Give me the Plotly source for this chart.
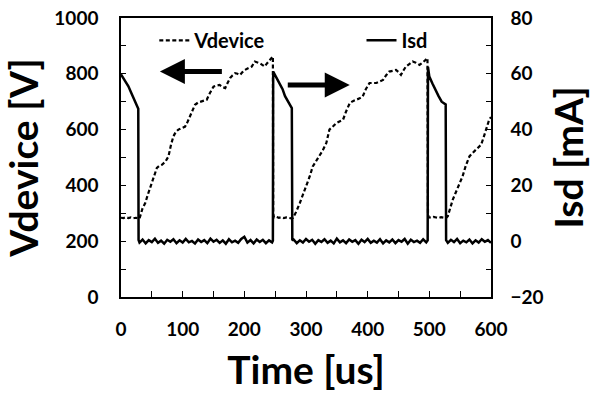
import plotly.graph_objects as go

# ---------------- data ----------------
# Isd pulses (time in us, current in mA)
pulse1_t = [0, 4, 8, 12, 16, 20, 24, 28, 28.5]
pulse1_i = [59.8, 58.5, 57.0, 55.5, 53.5, 51.5, 49.0, 47.5, 0.4]

base1_t = [30, 35, 40, 45, 50, 55, 60, 65, 70, 75, 80, 85, 90, 95, 100, 105, 110, 115,
           120, 125, 130, 135, 140, 145, 150, 155, 160, 165, 170, 175, 180, 185, 190,
           195, 200, 205, 210, 215, 220, 225, 230, 235, 240, 245]
base1_i = [-0.5, 0.6, -0.8, 0.4, -0.3, 0.9, -0.6, 0.2, -0.9, 0.5, -0.2, 0.7, -0.7, 0.3,
           -0.5, 0.8, -0.4, 0.1, -0.8, 0.6, -0.3, 0.4, -0.7, 0.9, -0.2, 0.5, -0.6, 0.3,
           -0.9, 0.7, -0.4, 0.2, -0.6, 0.8, 1.6, -0.5, 0.4, -0.8, 0.6, -0.3, 0.5, -0.7, 0.3, -0.4]

pulse2_t = [246.3, 246.8, 250, 254, 258, 262, 266, 269, 273, 277, 277.8]
pulse2_i = [0.2, 60.8, 59.5, 58.0, 56.5, 54.5, 52.0, 50.7, 49.2, 47.7, 0.3]

base2_t = [280, 285, 290, 295, 300, 305, 310, 315, 320, 325, 330, 335, 340, 345, 350, 355,
           360, 365, 370, 375, 380, 385, 390, 395, 400, 405, 410, 415, 420, 425, 430, 435,
           440, 445, 450, 455, 460, 465, 470, 475, 480, 485, 490, 495]
base2_i = [0.6, -0.7, 0.3, -0.5, 0.8, -0.2, 0.5, -0.9, 0.4, -0.3, 0.7, -0.6, 0.2, -0.8,
           0.9, -0.4, 0.3, -0.7, 0.6, -0.2, 0.4, -0.9, 0.5, -0.3, 0.8, -0.6, 0.2, -0.5,
           0.7, -0.8, 0.3, -0.4, 0.6, -0.7, 0.4, -0.2, 0.8, -0.9, 0.5, -0.3, 0.2, -0.6, 0.7, -0.4]

pulse3_t = [497.3, 497.8, 500, 505, 510, 515, 520, 526.5, 527.2]
pulse3_i = [0.3, 62.5, 59.0, 56.5, 54.0, 52.0, 50.0, 49.0, 0.4]

base3_t = [530, 535, 540, 545, 550, 555, 560, 565, 570, 575, 580, 585, 590, 595, 600]
base3_i = [-0.6, 0.5, -0.3, 0.8, -0.7, 0.2, -0.4, 0.6, -0.8, 0.3, -0.5, 0.7, -0.2, 0.4, -0.6]

# Vdevice (time in us, voltage in V)
v_time = [0, 4, 8, 12, 16, 20, 24, 28.5, 30, 35, 39.3, 44, 50, 54, 58.2, 62, 66.3, 72, 77,
          81, 85, 89, 93, 98, 104, 108, 112, 116, 120, 125, 131, 135, 139, 144, 150, 155,
          160, 165, 169, 173, 177, 181, 185, 189, 193, 197, 201, 206, 212, 217, 221, 225,
          229, 233, 237, 241, 246.3, 246.8, 248, 252, 256, 260, 264, 268, 272, 276, 279,
          284, 290, 295, 301, 306, 311, 316, 322, 327, 333, 338, 344, 349, 355, 360, 365,
          371, 376, 382, 387, 392, 397, 403, 408, 414, 419, 425, 430, 435, 441, 446, 450,
          454, 458, 462, 468, 473, 478, 484, 489, 495, 497, 497.8, 499, 503, 507, 511, 515,
          519, 523, 527, 530, 534, 538, 542, 546, 550, 554, 559, 565, 570, 576, 580, 584,
          588, 592, 597, 600]
v_vals = [284, 283, 286, 283, 285, 282, 284, 283, 281, 318, 337, 370, 409, 440, 463, 470,
          474, 485, 504, 545, 576, 592, 600, 605, 611, 628, 647, 668, 689, 697, 701, 703,
          707, 730, 754, 758, 760, 752, 749, 768, 785, 795, 802, 800, 796, 806, 814, 820,
          826, 844, 842, 838, 832, 826, 838, 850, 862, 300, 285, 287, 284, 286, 283, 285,
          284, 282, 284, 305, 337, 366, 397, 432, 468, 485, 504, 525, 552, 600, 612, 623,
          630, 635, 665, 695, 702, 707, 712, 719, 745, 767, 768, 767, 772, 778, 795, 808,
          811, 814, 806, 796, 812, 826, 836, 844, 840, 832, 840, 850, 856, 300, 286, 284,
          287, 285, 283, 286, 284, 283, 290, 320, 349, 370, 391, 412, 433, 470, 504, 516,
          528, 537, 546, 572, 600, 635, 645]

# arrows: (tail time, tip time, level in V)
arrow_left = (166, 63, 808)
arrow_right = (268, 371, 760)

x_ticks = [0, 100, 200, 300, 400, 500, 600]
y1_ticks = [0, 200, 400, 600, 800, 1000]
y2_ticks = [-20, 0, 20, 40, 60, 80]

isd_time = pulse1_t + base1_t + pulse2_t + base2_t + pulse3_t + base3_t
isd_vals = pulse1_i + base1_i + pulse2_i + base2_i + pulse3_i + base3_i

# ---------------- figure ----------------
FONT = "Lato"
fig = go.Figure()
fig.add_trace(go.Scatter(x=v_time, y=v_vals, mode="lines", name="Vdevice",
                         line=dict(color="black", width=2.2, dash="4px,2.5px"),
                         legend="legend"))
fig.add_trace(go.Scatter(x=isd_time, y=isd_vals, mode="lines", name="Isd", yaxis="y2",
                         line=dict(color="black", width=2.5), legend="legend2"))

tickfont = dict(family=FONT, size=19, color="black", weight="bold")
titlefont = dict(family=FONT, size=39, color="black", weight="bold")
minor_common = dict(ticks="inside", tickwidth=1.3, tickcolor="black")

fig.update_layout(
    width=591, height=402,
    margin=dict(l=121, r=100, t=18, b=105),
    paper_bgcolor="white", plot_bgcolor="white",
    showlegend=True,
    xaxis=dict(range=[0, 600], tickvals=x_ticks, ticks="inside", ticklen=6, tickwidth=1.3,
               tickcolor="black", minor=dict(dtick=50, ticklen=6, **minor_common),
               showline=True, linecolor="black", linewidth=1.5, mirror=True,
               showgrid=False, zeroline=False, tickfont=tickfont, ticklabelstandoff=14,
               automargin=False,
               title=dict(text="Time [us]", font=titlefont, standoff=18)),
    yaxis=dict(range=[0, 1000], tickvals=y1_ticks, ticks="inside", ticklen=5, tickwidth=1.3,
               tickcolor="black", minor=dict(dtick=100, ticklen=5, **minor_common),
               showline=True, linecolor="black", linewidth=1.5,
               showgrid=False, zeroline=False, tickfont=tickfont, ticklabelstandoff=17,
               automargin=False,
               title=dict(text="Vdevice [V]", font=titlefont, standoff=22)),
    yaxis2=dict(range=[-20, 80], tickvals=y2_ticks, overlaying="y", side="right",
                ticks="inside", ticklen=5, tickwidth=1.3, tickcolor="black",
                minor=dict(dtick=10, ticklen=5, **minor_common),
                showline=True, linecolor="black", linewidth=1.5,
                showgrid=False, zeroline=False, tickfont=tickfont, ticklabelstandoff=14,
                automargin=False,
                title=dict(text="Isd [mA]", font=titlefont, standoff=14)),
    legend=dict(x=0.09, y=0.99, xanchor="left", yanchor="top", bgcolor="rgba(0,0,0,0)",
                font=dict(family=FONT, size=20, color="black", weight="bold")),
    legend2=dict(x=0.65, y=0.99, xanchor="left", yanchor="top", bgcolor="rgba(0,0,0,0)",
                 font=dict(family=FONT, size=20, color="black", weight="bold")),
)

for tail, tip, level in (arrow_left, arrow_right):
    fig.add_annotation(x=tip, y=level, ax=tail, ay=level, xref="x", yref="y",
                       axref="x", ayref="y", text="", showarrow=True,
                       arrowhead=2, arrowsize=1.0, arrowwidth=5, arrowcolor="black")

fig.write_html("out.html", config={"displayModeBar": False},
               post_script="document.body.style.margin='0';document.body.style.overflow='hidden';")
